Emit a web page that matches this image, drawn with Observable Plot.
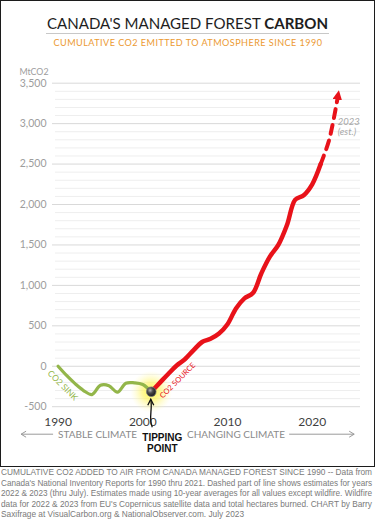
<!DOCTYPE html>
<html>
<head>
<meta charset="utf-8">
<script src="https://cdn.jsdelivr.net/npm/d3@7"></script>
<script src="https://cdn.jsdelivr.net/npm/@observablehq/plot@0.6"></script>
<style>
  html, body { margin:0; padding:0; background:#fff; }
  #wrap { position:relative; width:375px; height:520px; overflow:hidden; }
  #box { position:absolute; left:0; top:0; width:375px; height:467px; box-sizing:border-box; border:1.5px solid #1c1c1c; pointer-events:none; z-index:2; }
  #title { position:absolute; left:0; top:13px; width:375px; text-align:center; font-family: Lato, "Open Sans", sans-serif; font-size:17px; color:#1e1e1e; line-height:20px; white-space:nowrap; }
  #title .inner { display:inline-block; border-bottom:1px solid #c8c8c8; padding:0 1px; }
  #title b { font-weight:700; }
  #sub { position:absolute; left:0; top:36px; width:375px; text-align:center; font-family: Lato, "Open Sans", sans-serif; font-size:10px; color:#ec9a32; letter-spacing:0.5px; white-space:nowrap; line-height:12px; }
  #sub span { display:inline-block; }
  #chart { position:absolute; left:0; top:50px; }
  #caption { position:absolute; left:1px; top:467px; width:372px; font-family: "Liberation Sans Narrow", "Arial Narrow", "Liberation Sans", Arial, sans-serif; font-size:9.8px; line-height:10.5px; color:#7a7a7a; }
  #caption div { white-space:nowrap; height:10.5px; }
  #caption span { display:inline-block; transform-origin:0 0; }
</style>
</head>
<body>
<div id="wrap">
  <div id="title"><span class="inner">CANADA'S MANAGED FOREST <b>CARBON</b></span></div>
  <div id="sub"><span>CUMULATIVE CO2 EMITTED TO ATMOSPHERE SINCE 1990</span></div>
  <div id="chart"></div>
  <div id="box"></div>
  <div id="caption"></div>
</div>
<script>
// ---------- data ----------
const years = [1990, 1991, 1992, 1993, 1994, 1995, 1996, 1997, 1998, 1999, 2000,
               2001, 2002, 2003, 2004, 2005, 2006, 2007, 2008, 2009, 2010,
               2011, 2012, 2013, 2014, 2015, 2016, 2017, 2018, 2019, 2020,
               2021, 2022, 2023];
const cumulativeMt = [0, -114, -215, -300, -350, -235, -240, -320, -210, -205, -225,
                      -315, -205, -95, 10, 90, 200, 300, 340, 405, 520,
                      715, 840, 905, 1150, 1355, 1500, 1740, 2060, 2115, 2250,
                      2500, 2800, 3320];
const tippingYear = 2001;
const lastReportedYear = 2021;
const xTickYears = [1990, 2000, 2010, 2020];
const yTickValues = [-500, 0, 500, 1000, 1500, 2000, 2500, 3000, 3500];
const yMinorValues = [-400, -300, -200, -100, 100, 200, 300, 400, 600, 700, 800, 900,
                      1100, 1200, 1300, 1400, 1600, 1700, 1800, 1900, 2100, 2200, 2300, 2400,
                      2600, 2700, 2800, 2900, 3100, 3200, 3300, 3400];
const captionLines = [
  "CUMULATIVE CO2 ADDED TO AIR FROM CANADA MANAGED FOREST SINCE 1990 -- Data from",
  "Canada's National Inventory Reports for 1990 thru 2021. Dashed part of line shows estimates for years",
  "2022 & 2023 (thru July). Estimates made using 10-year averages for all values except wildfire. Wildfire",
  "data for 2022 & 2023 from EU's Copernicus satellite data and total hectares burned. CHART by Barry",
  "Saxifrage at VisualCarbon.org & NationalObserver.com. July 2023"
];

// ---------- build ----------
const rows = years.map((year, i) => ({year, mt: cumulativeMt[i]}));
const sink = rows.filter(d => d.year <= tippingYear);
const source = rows.filter(d => d.year >= tippingYear && d.year <= lastReportedYear);
const estimate = rows.filter(d => d.year >= lastReportedYear);
const tip = rows.filter(d => d.year === tippingYear);
const sinkLabelAt = rows.filter(d => d.year === 1991);
const sourceLabelAt = rows.filter(d => d.year === 2004);
const lastPoint = rows.slice(-1);

const green = "#93b64a", red = "#e8121a";
const fmt = d => (d < 0 ? "-" : "") + d3.format(",")(Math.abs(d));

const chart = Plot.plot({
  width: 375, height: 416,
  marginLeft: 52, marginRight: 15, marginTop: 32.7, marginBottom: 59.8,
  style: {fontFamily: "Lato, 'Open Sans', sans-serif", background: "transparent", overflow: "visible"},
  x: {domain: [1989.34, 2025.7], axis: null},
  y: {domain: [-500, 3500], axis: null},
  marks: [
    Plot.ruleY(yMinorValues, {stroke: "#eeeeee", strokeWidth: 1, insetLeft: 3}),
    Plot.ruleY(yTickValues, {stroke: "#d9d9d9", strokeWidth: 1}),
    Plot.axisY(yTickValues, {tickSize: 0, tickPadding: 6, tickFormat: fmt, fontSize: 10.5, color: "#9d9d9d", label: null}),
    Plot.axisX(xTickYears, {tickSize: 0, tickPadding: 11, tickFormat: d => String(d), fontSize: 12, color: "#3f3f3f", label: null}),
    Plot.text(["MtCO2"], {frameAnchor: "top-left", text: d => d, textAnchor: "end", dx: -4, dy: -14.5, fontSize: 8.8, fill: "#9d9d9d"}),
    Plot.dot(tip, {x: "year", y: "mt", r: 21, fill: "url(#glow)", stroke: null}),
    Plot.line(sink, {x: "year", y: "mt", stroke: green, strokeWidth: 3.2, curve: "catmull-rom"}),
    Plot.line(source, {x: "year", y: "mt", stroke: red, strokeWidth: 4.5, curve: "catmull-rom"}),
    Plot.line(estimate, {x: "year", y: "mt", stroke: red, strokeWidth: 4, strokeDasharray: "9,7", curve: "catmull-rom"}),
    Plot.dot(tip, {x: "year", y: "mt", r: 4.8, fill: "url(#ball)", stroke: "#777", strokeWidth: 0.8}),
    Plot.text(sinkLabelAt, {x: "year", y: "mt", text: () => "CO2 SINK", rotate: 45, dx: -4, dy: 10, fontSize: 8.5, fill: green}),
    Plot.text(sourceLabelAt, {x: "year", y: "mt", text: () => "CO2 SOURCE", rotate: -45, dx: 1, dy: 15, fontSize: 7.5, fill: red}),
    Plot.text(lastPoint, {x: "year", y: "mt", text: () => "2023\n(est.)", textAnchor: "start", lineAnchor: "top", dx: 0, dy: 20, fontSize: 9.5, fontStyle: "italic", fill: "#a8a8a8", lineHeight: 1.05}),
    Plot.text(tip, {x: "year", y: "mt", text: () => "TIPPING\nPOINT", lineAnchor: "top", dx: 11, dy: 41, fontSize: 10, fontWeight: "bold", fill: "#111", fontFamily: "'Liberation Sans', Arial, sans-serif", lineHeight: 1.15}),
    Plot.text(["STABLE CLIMATE"], {x: [1990], text: d => d, frameAnchor: "bottom", textAnchor: "start", dy: 31, fontSize: 10, fill: "#8a8a8a"}),
    Plot.text(["CHANGING CLIMATE"], {x: [2011], text: d => d, frameAnchor: "bottom", textAnchor: "middle", dy: 31, fontSize: 10, fill: "#8a8a8a"})
  ]
});

document.getElementById("chart").appendChild(chart);

// ---------- decorations (gradients, arrow heads) ----------
const svg = d3.select(chart);
const defs = svg.insert("defs", ":first-child");
const glow = defs.append("radialGradient").attr("id", "glow");
glow.append("stop").attr("offset", "0%").attr("stop-color", "#fffb3a").attr("stop-opacity", 0.95);
glow.append("stop").attr("offset", "45%").attr("stop-color", "#fff45c").attr("stop-opacity", 0.6);
glow.append("stop").attr("offset", "100%").attr("stop-color", "#fffbb0").attr("stop-opacity", 0);
const ball = defs.append("radialGradient").attr("id", "ball").attr("cx", "38%").attr("cy", "35%").attr("r", "65%");
ball.append("stop").attr("offset", "0%").attr("stop-color", "#b5b5b5");
ball.append("stop").attr("offset", "45%").attr("stop-color", "#4a4a4a");
ball.append("stop").attr("offset", "100%").attr("stop-color", "#1a1a1a");
defs.append("marker").attr("id", "ah")
  .attr("viewBox", "0 0 10 10").attr("refX", 2).attr("refY", 5)
  .attr("markerWidth", 9.5).attr("markerHeight", 9.5)
  .attr("markerUnits", "userSpaceOnUse").attr("orient", "auto")
  .append("path").attr("d", "M0,0 L10,5 L0,10 z").attr("fill", red);
svg.selectAll("g[stroke-dasharray] path").attr("marker-end", "url(#ah)");

const xs = chart.scale("x"), ys = chart.scale("y");
const tx = xs.apply(tippingYear), ty = ys.apply(tip[0].mt);
const deco = svg.append("g").attr("fill", "none");
deco.append("path")
  .attr("d", `M${tx + 1.5},${ty + 36} C${tx - 2.5},${ty + 27} ${tx + 2},${ty + 18} ${tx},${ty + 8.5}`)
  .attr("stroke", "#111").attr("stroke-width", 1.3);
deco.append("path")
  .attr("d", `M${tx - 3},${ty + 14} L${tx},${ty + 8} L${tx + 3},${ty + 14}`)
  .attr("stroke", "#111").attr("stroke-width", 1.3);

// era arrows beside the era labels (positions measured from the rendered labels)
const svgRect = chart.getBoundingClientRect();
svg.selectAll("text").each(function() {
  const t = this.textContent;
  if (t !== "STABLE CLIMATE" && t !== "CHANGING CLIMATE") return;
  const r = this.getBoundingClientRect();
  const left = r.left - svgRect.left, right = r.right - svgRect.left;
  const y = r.top - svgRect.top + r.height / 2 + 0.5;
  if (t === "STABLE CLIMATE") {
    const x0 = left - 5, x1 = left - 37;
    deco.append("path").attr("d", `M${x0},${y} L${x1},${y} M${x1 + 5},${y - 3} L${x1},${y} L${x1 + 5},${y + 3}`)
      .attr("stroke", "#9a9a9a").attr("stroke-width", 1);
  } else {
    const x0 = right + 4, x1 = x0 + 65;
    deco.append("path").attr("d", `M${x0},${y} L${x1},${y} M${x1 - 5},${y - 3} L${x1},${y} L${x1 - 5},${y + 3}`)
      .attr("stroke", "#9a9a9a").attr("stroke-width", 1);
  }
});

// ---------- fit title / subtitle / caption to the reference widths ----------
const titleInner = document.querySelector("#title .inner");
const tw = titleInner.getBoundingClientRect().width;
document.getElementById("title").style.fontSize = (17 * 283 / tw) + "px";
const subSpan = document.querySelector("#sub span");
const sw = subSpan.getBoundingClientRect().width;
subSpan.style.transform = `scaleX(${269 / sw})`;

const cap = document.getElementById("caption");
captionLines.forEach((line, i) => {
  const div = document.createElement("div");
  const span = document.createElement("span");
  span.textContent = line;
  div.appendChild(span);
  cap.appendChild(div);
  const w = span.getBoundingClientRect().width;
  const target = i < captionLines.length - 1 ? 371 : 243;
  span.style.transform = `scaleX(${target / w})`;
});
</script>
</body>
</html>
